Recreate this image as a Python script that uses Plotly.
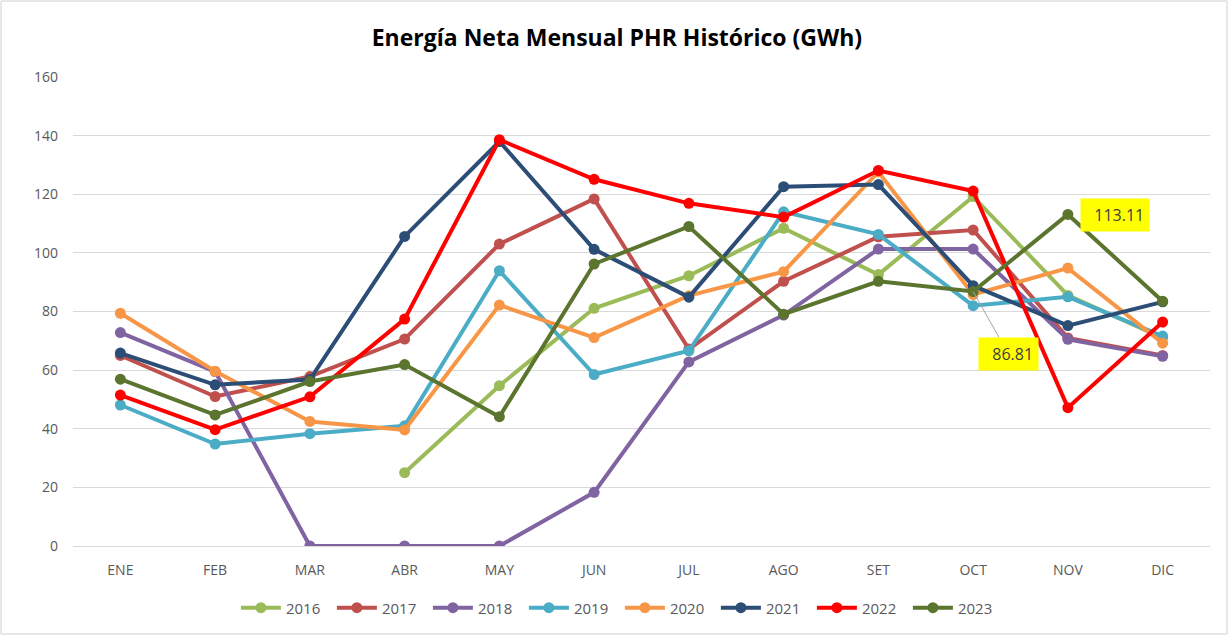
import plotly.graph_objects as go

months = ["ENE", "FEB", "MAR", "ABR", "MAY", "JUN", "JUL", "AGO", "SET", "OCT", "NOV", "DIC"]

y2016 = [None, None, None, 25.0, 54.7, 81.1, 92.2, 108.4, 92.6, 119.2, 85.5, 71.0]
y2017 = [65.0, 51.0, 57.8, 70.6, 103.0, 118.4, 67.2, 90.3, 105.5, 107.8, 71.0, 65.0]
y2018 = [72.8, 59.5, 0.0, 0.0, 0.0, 18.3, 62.8, 78.8, 101.3, 101.3, 70.5, 64.7]
y2019 = [48.1, 34.8, 38.3, 41.0, 93.9, 58.5, 66.6, 114.0, 106.3, 82.0, 85.0, 71.6]
y2020 = [79.4, 59.6, 42.5, 39.6, 82.2, 71.1, 85.4, 93.6, 127.6, 85.8, 94.8, 69.2]
y2021 = [65.8, 55.0, 56.8, 105.6, 138.0, 101.2, 84.9, 122.6, 123.3, 88.8, 75.2, 83.3]
y2022 = [51.5, 39.7, 50.9, 77.4, 138.6, 125.1, 116.9, 112.2, 128.1, 121.1, 47.2, 76.4]
y2023 = [56.9, 44.7, 56.1, 61.9, 44.1, 96.2, 109.0, 79.1, 90.3, 86.81, 113.11, 83.5]

series_names = ["2016", "2017", "2018", "2019", "2020", "2021", "2022", "2023"]
series_values = [y2016, y2017, y2018, y2019, y2020, y2021, y2022, y2023]
series_colors = ["#9BBB59", "#C0504D", "#8064A2", "#4BACC6", "#F79646", "#2C4D75", "#FF0000", "#5B742E"]

y_ticks = [0, 20, 40, 60, 80, 100, 120, 140, 160]

fig = go.Figure()
for name, vals, col in zip(series_names, series_values, series_colors):
    fig.add_trace(go.Scatter(
        x=months, y=vals, name=name, mode="lines+markers",
        line=dict(color=col, width=4),
        marker=dict(color=col, size=11),
        connectgaps=False,
    ))

# data labels for 2023
fig.add_annotation(x="NOV", y=y2023[10], text="  113.11", showarrow=False,
                   xshift=47, yshift=-1, bgcolor="#FFFF00",
                   font=dict(family="Open Sans", size=16, color="#404040"),
                   borderpad=5)
fig.add_annotation(x="OCT", y=y2023[9], text="  86.81", showarrow=True,
                   ax=35, ay=62, arrowhead=0, arrowwidth=1, arrowcolor="#A6A6A6",
                   bgcolor="#FFFF00", standoff=0,
                   font=dict(family="Open Sans", size=16, color="#404040"),
                   borderpad=5)

# outer border
fig.add_shape(type="rect", xref="paper", yref="paper",
              x0=-0.0633, x1=1.0150, y0=-0.1876, y1=1.1620,
              line=dict(color="#D0D0D0", width=1), fillcolor="rgba(0,0,0,0)", layer="below")

fig.update_layout(
    width=1229, height=636,
    margin=dict(l=73, r=19, t=77, b=90),
    paper_bgcolor="white", plot_bgcolor="white",
    title=dict(text="<b>Energía Neta Mensual PHR Histórico (GWh)</b>",
               x=0.502, xanchor="center", y=0.94, yanchor="middle",
               font=dict(family="Open Sans", size=23, color="#000000")),
    font=dict(family="Open Sans", color="#595959", size=14),
    showlegend=True,
    legend=dict(orientation="h", x=0.481, xanchor="center", y=-0.132, yanchor="middle",
                font=dict(size=15, color="#595959"), itemwidth=40, tracegroupgap=0,
                entrywidth=41, entrywidthmode="pixels"),
    xaxis=dict(type="category", range=[-0.5, 11.5], showgrid=False, showline=False,
               ticks="", ticklabelstandoff=14, tickfont=dict(size=14, color="#595959")),
    yaxis=dict(range=[0, 160], tickvals=y_ticks, showgrid=True, gridcolor="#D9D9D9",
               gridwidth=1, zeroline=True, zerolinecolor="#D9D9D9", zerolinewidth=1,
               showline=False, ticks="", ticklabelstandoff=14,
               tickfont=dict(size=14, color="#595959")),
)

fig.write_html("out.html", config={"displayModeBar": False},
               post_script="document.body.style.margin='0';document.body.style.overflow='hidden';")
